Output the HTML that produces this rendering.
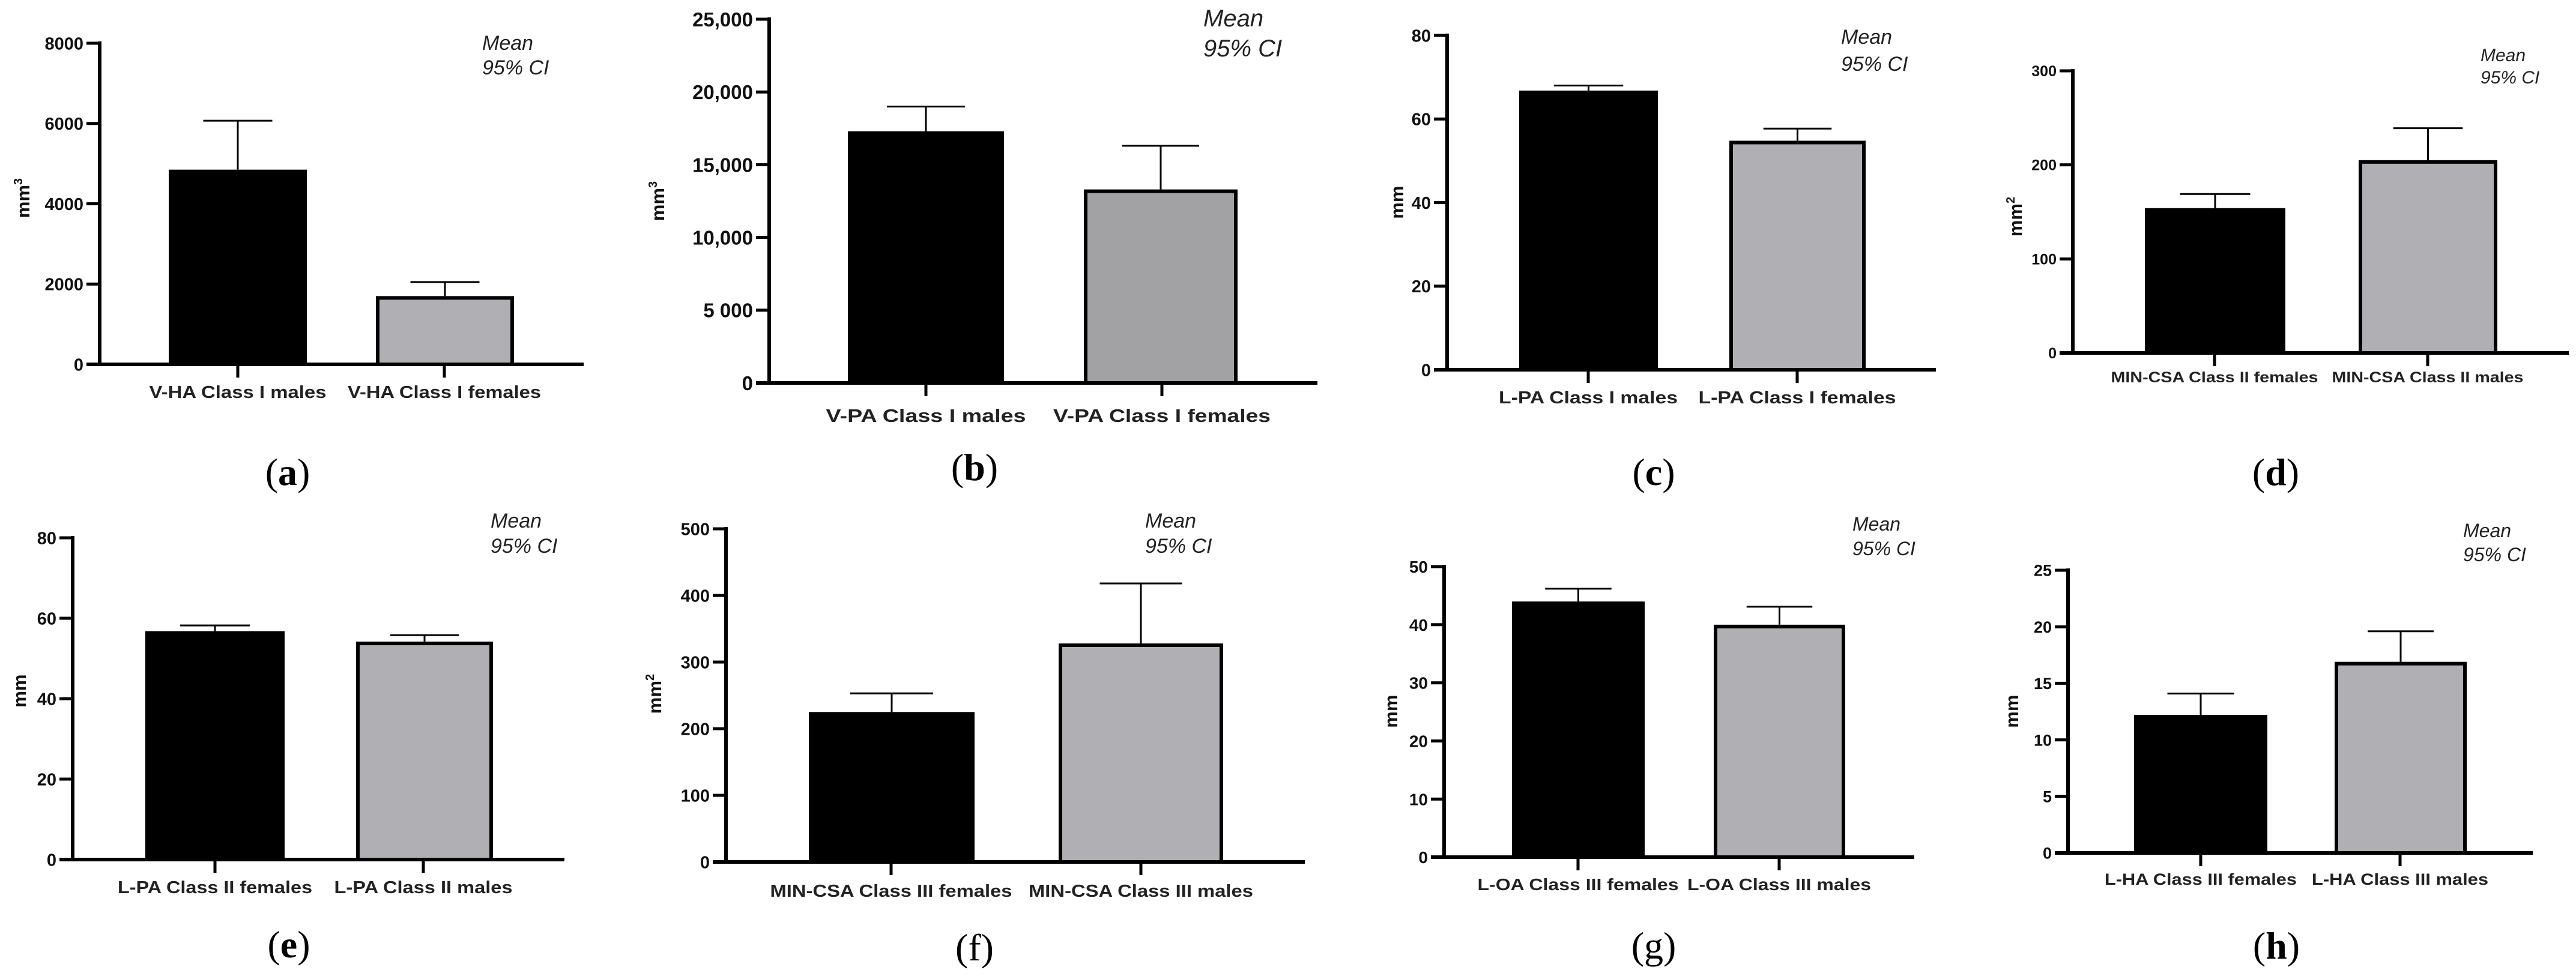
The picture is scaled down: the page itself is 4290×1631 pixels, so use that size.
<!DOCTYPE html>
<html><head><meta charset="utf-8"><style>
html,body{margin:0;padding:0;background:#fff;}
svg{display:block;}
</style></head><body>
<svg id="fig" width="4290" height="1631" viewBox="0 0 4290 1631" xmlns="http://www.w3.org/2000/svg"></svg>
<script>
// ---- data ----
const panelLetters = ['a','b','c','d','e','f','g','h'];
const categories = [
  ['V-HA Class I males','V-HA Class I females'],
  ['V-PA Class I males','V-PA Class I females'],
  ['L-PA Class I males','L-PA Class I females'],
  ['MIN-CSA Class II females','MIN-CSA Class II males'],
  ['L-PA Class II females','L-PA Class II males'],
  ['MIN-CSA Class III females','MIN-CSA Class III males'],
  ['L-OA Class III females','L-OA Class III males'],
  ['L-HA Class III females','L-HA Class III males']
];
const meanValues = [[4850,1700],[17300,13300],[66.8,54.8],[154,205],[56.8,54.2],[225,328],[44,40],[12.2,16.9]];
const ciUpper = [[6070,2050],[19000,16300],[68,57.7],[169,239],[58.2,55.8],[253,418],[46.2,43.1],[14.1,19.6]];
const yMaxValues = [8000,25000,80,300,80,500,50,25];
const tickValues = [
  [0,2000,4000,6000,8000],
  [0,5000,10000,15000,20000,25000],
  [0,20,40,60,80],
  [0,100,200,300],
  [0,20,40,60,80],
  [0,100,200,300,400,500],
  [0,10,20,30,40,50],
  [0,5,10,15,20,25]
];
const tickLabels = [
  ['0','2000','4000','6000','8000'],
  ['0','5 000','10,000','15,000','20,000','25,000'],
  ['0','20','40','60','80'],
  ['0','100','200','300'],
  ['0','20','40','60','80'],
  ['0','100','200','300','400','500'],
  ['0','10','20','30','40','50'],
  ['0','5','10','15','20','25']
];
const yUnits = ['mm3','mm3','mm','mm2','mm','mm2','mm','mm'];

// ---- layout (pixels) ----
const L = [
 {ax:166,xe:972,yt:72,y0:607,b:[[281,511],[626,856]],tx:[396,740],lw:[295,322],lb:663,fs:29,tfs:29,ylx:38,yly:330,mx:803,mb:[83,124],mfs:34,px:479,py:808,bold:true,gray:'#b0afb3'},
 {ax:1281,xe:2194,yt:32,y0:638,b:[[1412,1672],[1805,2061]],tx:[1542,1935],lw:[333,362],lb:703,fs:31,tfs:33,ylx:1095,yly:335,mx:2004,mb:[44,94],mfs:40,px:1623,py:800,bold:true,gray:'#a2a2a4'},
 {ax:2410,xe:3224,yt:59,y0:616,b:[[2530,2761],[2880,3107]],tx:[2645,2993],lw:[298,329],lb:672,fs:29,tfs:29,ylx:2326,yly:337,mx:3066,mb:[73,118],mfs:34,px:2754,py:808,bold:true,gray:'#b0afb3'},
 {ax:3452,xe:4278,yt:118,y0:588,b:[[3572,3806],[3928,4159]],tx:[3688,4043],lw:[345,319],lb:637,fs:25,tfs:25,ylx:3356,yly:361,mx:4131,mb:[102,139],mfs:30,px:3790,py:808,bold:true,gray:'#b0afb3'},
 {ax:121,xe:940,yt:896,y0:1432,b:[[242,474],[593,821]],tx:[358,705],lw:[324,297],lb:1488,fs:29,tfs:29,ylx:32,yly:1151,mx:817,mb:[879,921],mfs:34,px:481,py:1595,bold:true,gray:'#b0afb3'},
 {ax:1209,xe:2173,yt:881,y0:1436,b:[[1347,1623],[1763,2037]],tx:[1484,1900],lw:[403,374],lb:1494,fs:29,tfs:29,ylx:1090,yly:1156,mx:1907,mb:[879,921],mfs:34,px:1623,py:1600,bold:false,gray:'#b0afb3'},
 {ax:2405,xe:3188,yt:944,y0:1428,b:[[2518,2739],[2854,3073]],tx:[2628,2963],lw:[335,306],lb:1483,fs:28,tfs:28,ylx:2316,yly:1185,mx:3085,mb:[884,925],mfs:32,px:2754,py:1597,bold:false,gray:'#b0afb3'},
 {ax:3444,xe:4218,yt:950,y0:1421,b:[[3554,3776],[3888,4108]],tx:[3665,3997],lw:[320,294],lb:1474,fs:27,tfs:27,ylx:3350,yly:1185,mx:4102,mb:[895,935],mfs:32,px:3791,py:1597,bold:true,gray:'#b0afb3'}
];

const NS='http://www.w3.org/2000/svg';
const svg=document.getElementById('fig');
function mk(tag,attrs,parent){const e=document.createElementNS(NS,tag);for(const k in attrs)e.setAttribute(k,attrs[k]);(parent||svg).appendChild(e);return e;}
const SANS='"Liberation Sans", Arial, sans-serif';
const SERIF='"Liberation Serif", "DejaVu Serif", serif';

for(let p=0;p<8;p++){
  const c=L[p];
  const g=mk('g',{});
  
  
  const yScale=v=>c.y0-(v/yMaxValues[p])*(c.y0-c.yt);
  // bars
  for(let i=0;i<2;i++){
    const x0=c.b[i][0],x1=c.b[i][1];
    const yv=yScale(meanValues[p][i]);
    const yc=yScale(ciUpper[p][i]);
    const cx=(x0+x1)/2, hw=(x1-x0)/4;
    const eb=mk('g',{},g);
    
    
    mk('line',{x1:cx,y1:yv,x2:cx,y2:yc,stroke:'#000','stroke-width':3},eb);
    mk('line',{x1:cx-hw,y1:yc,x2:cx+hw,y2:yc,stroke:'#000','stroke-width':3},eb);
    const r=mk('rect',{x:x0+3,y:yv+3,width:x1-x0-6,height:c.y0-yv-3,fill:i===0?'#000':c.gray,stroke:'#000','stroke-width':6},g);
    
    
  }
  // y axis
  const ya=mk('g',{},g);
  
  
  mk('line',{x1:c.ax,y1:c.yt-3,x2:c.ax,y2:c.y0+3,stroke:'#000','stroke-width':6},ya);
  tickValues[p].forEach((v,k)=>{
    const y=yScale(v);
    mk('line',{x1:c.ax-22,y1:y,x2:c.ax,y2:y,stroke:'#000','stroke-width':5},ya);
    const t=mk('text',{x:c.ax-27,y:y+c.tfs*0.36,'text-anchor':'end','font-family':SANS,'font-weight':'bold','font-size':c.tfs,fill:'#111'},ya);
    
    
    t.textContent=tickLabels[p][k];
  });
  // x axis
  const xa=mk('g',{},g);
  
  
  mk('line',{x1:c.ax-22,y1:c.y0,x2:c.xe,y2:c.y0,stroke:'#000','stroke-width':6},xa);
  for(let i=0;i<2;i++){
    mk('line',{x1:c.tx[i],y1:c.y0,x2:c.tx[i],y2:c.y0+22,stroke:'#000','stroke-width':5},xa);
    const t=mk('text',{x:c.tx[i],y:c.lb,'text-anchor':'middle','font-family':SANS,'font-weight':'bold','font-size':c.fs,fill:'#222',textLength:c.lw[i],lengthAdjust:'spacingAndGlyphs'},xa);
    
    
    t.textContent=categories[p][i];
  }
  // y axis title
  const yt=mk('text',{x:0,y:0,transform:`translate(${c.ylx+11},${c.yly}) rotate(-90)`,'text-anchor':'middle','font-family':SANS,'font-weight':'bold','font-size':31,fill:'#111'},g);
  
  
  const u=yUnits[p];
  if(u.length>2){
    yt.appendChild(document.createTextNode('mm'));
    const s=mk('tspan',{'font-size':20,dy:-12},yt);
    s.textContent=u.slice(2);
  } else yt.textContent=u;
  // legend
  const lg=mk('g',{},g);
  
  
  ['Mean','95% CI'].forEach((s,k)=>{
    const t=mk('text',{x:c.mx,y:c.mb[k],'font-family':SANS,'font-style':'italic','font-size':c.mfs,fill:'#222'},lg);
    
    
    t.textContent=s;
  });
  // panel letter
  const pl=mk('text',{x:c.px,y:c.py,'text-anchor':'middle','font-family':SERIF,'font-size':64,fill:'#000'},g);
  
  
  pl.appendChild(document.createTextNode('('));
  const ts=mk('tspan',{'font-weight':c.bold?'bold':'normal'},pl);
  ts.textContent=panelLetters[p];
  pl.appendChild(document.createTextNode(')'));
}
</script>
</body></html>
